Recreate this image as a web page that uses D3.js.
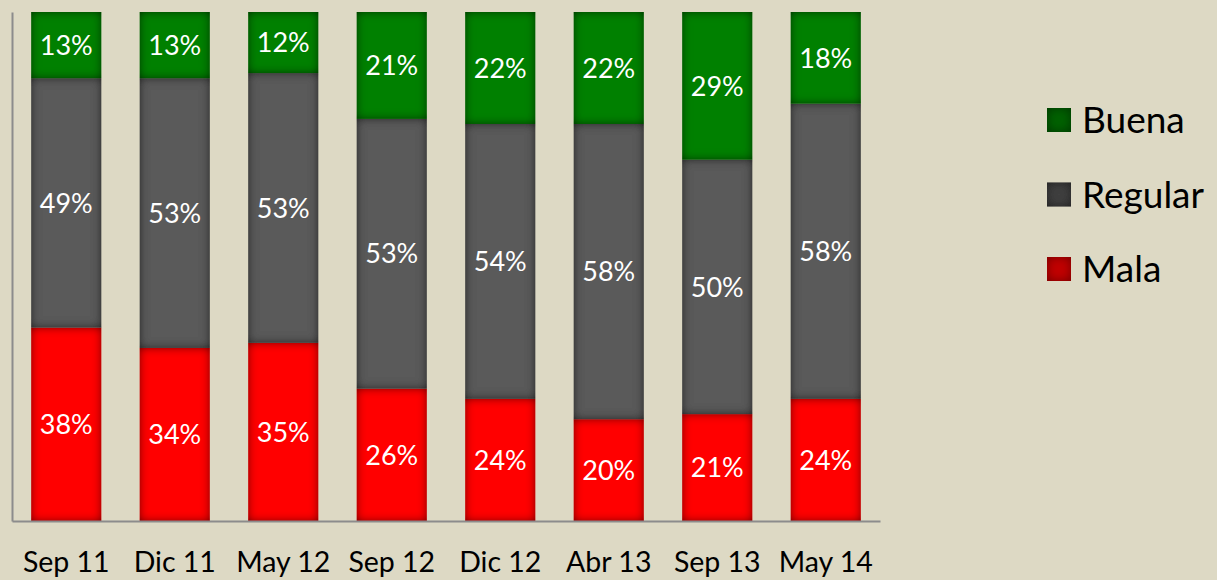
<!DOCTYPE html>
<html>
<head>
<meta charset="utf-8">
<script src="https://cdn.jsdelivr.net/npm/d3@7"></script>
<style>
  body { margin: 0; background: #ddd9c4; }
  svg { display: block; }
</style>
</head>
<body>
<svg id="chart"></svg>
<script>
// categories along the x axis
const periods = ["Sep 11", "Dic 11", "May 12", "Sep 12", "Dic 12", "Abr 13", "Sep 13", "May 14"];

// series values (percent), bottom to top
const mala    = [38, 34, 35, 26, 24, 20, 21, 24];
const regular = [49, 53, 53, 53, 54, 58, 50, 58];
const buena   = [13, 13, 12, 21, 22, 22, 29, 18];

const seriesNames = ["Mala", "Regular", "Buena"];
const legendOrder = ["Buena", "Regular", "Mala"];

const width = 1217, height = 580;
const margin = { top: 12, right: 337, bottom: 59, left: 12 };

const svg = d3.select("#chart")
    .attr("width", width)
    .attr("height", height)
    .attr("viewBox", [0, 0, width, height]);

svg.append("rect")
    .attr("width", width)
    .attr("height", height)
    .attr("fill", "#ddd9c4");

// inner shadow to give the bars their darker edges
const defs = svg.append("defs");
const filter = defs.append("filter")
    .attr("id", "inner")
    .attr("x", "-20%").attr("y", "-20%")
    .attr("width", "140%").attr("height", "140%");
filter.append("feFlood").attr("flood-color", "black").attr("flood-opacity", 1);
filter.append("feComposite").attr("in2", "SourceAlpha").attr("operator", "out");
filter.append("feGaussianBlur").attr("stdDeviation", 5);
filter.append("feComposite").attr("in2", "SourceAlpha").attr("operator", "in").attr("result", "shadow");
const merge = filter.append("feMerge");
merge.append("feMergeNode").attr("in", "SourceGraphic");
merge.append("feMergeNode").attr("in", "shadow");

// build a table for d3.stack
const table = periods.map((p, i) => ({
  period: p,
  Mala: mala[i],
  Regular: regular[i],
  Buena: buena[i],
}));

const stacked = d3.stack().keys(seriesNames)(table);

const x = d3.scaleBand()
    .domain(periods)
    .range([margin.left, width - margin.right])
    .paddingInner(0.355)
    .paddingOuter(0.1775);

const y = d3.scaleLinear()
    .domain([0, 100])
    .range([height - margin.bottom, margin.top]);

const color = d3.scaleOrdinal()
    .domain(seriesNames)
    .range(["#ff0000", "#5a5a5a", "#008000"]);

const legendColor = d3.scaleOrdinal()
    .domain(seriesNames)
    .range(["#c00000", "#404040", "#006000"]);

const font = "Lato, 'Open Sans', sans-serif";

// bars
const layers = svg.append("g")
    .selectAll("g")
    .data(stacked)
    .join("g")
    .attr("fill", d => color(d.key));

layers.selectAll("rect")
    .data(d => d)
    .join("rect")
    .attr("x", d => x(d.data.period))
    .attr("y", d => y(d[1]))
    .attr("width", x.bandwidth())
    .attr("height", d => y(d[0]) - y(d[1]))
    .attr("filter", "url(#inner)");

// value labels
layers.selectAll("text")
    .data(d => d)
    .join("text")
    .attr("x", d => x(d.data.period) + x.bandwidth() / 2)
    .attr("y", d => (y(d[0]) + y(d[1])) / 2)
    .attr("dy", "0.36em")
    .attr("text-anchor", "middle")
    .attr("fill", "white")
    .style("font-family", font)
    .style("font-size", "27px")
    .text(d => (d[1] - d[0]) + "%");

// axes
const xAxis = d3.axisBottom(x).tickSize(0).tickPadding(31);
const gx = svg.append("g")
    .attr("transform", `translate(0, ${height - margin.bottom})`)
    .call(xAxis);
gx.select(".domain").attr("stroke", "#8c8c8c").attr("stroke-width", 2);
gx.selectAll("text")
    .attr("fill", "black")
    .style("font-family", font)
    .style("font-size", "28.5px");

const gy = svg.append("g")
    .attr("transform", `translate(${margin.left}, 0)`)
    .call(d3.axisLeft(y).tickValues([]).tickSizeOuter(0));
gy.select(".domain").attr("stroke", "#8c8c8c").attr("stroke-width", 2);

// legend
const legend = svg.append("g")
    .selectAll("g")
    .data(legendOrder)
    .join("g")
    .attr("transform", (d, i) => `translate(1047, ${108 + i * 74.5})`);

legend.append("rect")
    .attr("width", 24)
    .attr("height", 24)
    .attr("fill", d => legendColor(d))
    .attr("filter", "url(#inner)");

legend.append("text")
    .attr("x", 35)
    .attr("y", 12)
    .attr("dy", "0.36em")
    .attr("fill", "black")
    .style("font-family", font)
    .style("font-size", "37px")
    .text(d => d);
</script>
</body>
</html>
